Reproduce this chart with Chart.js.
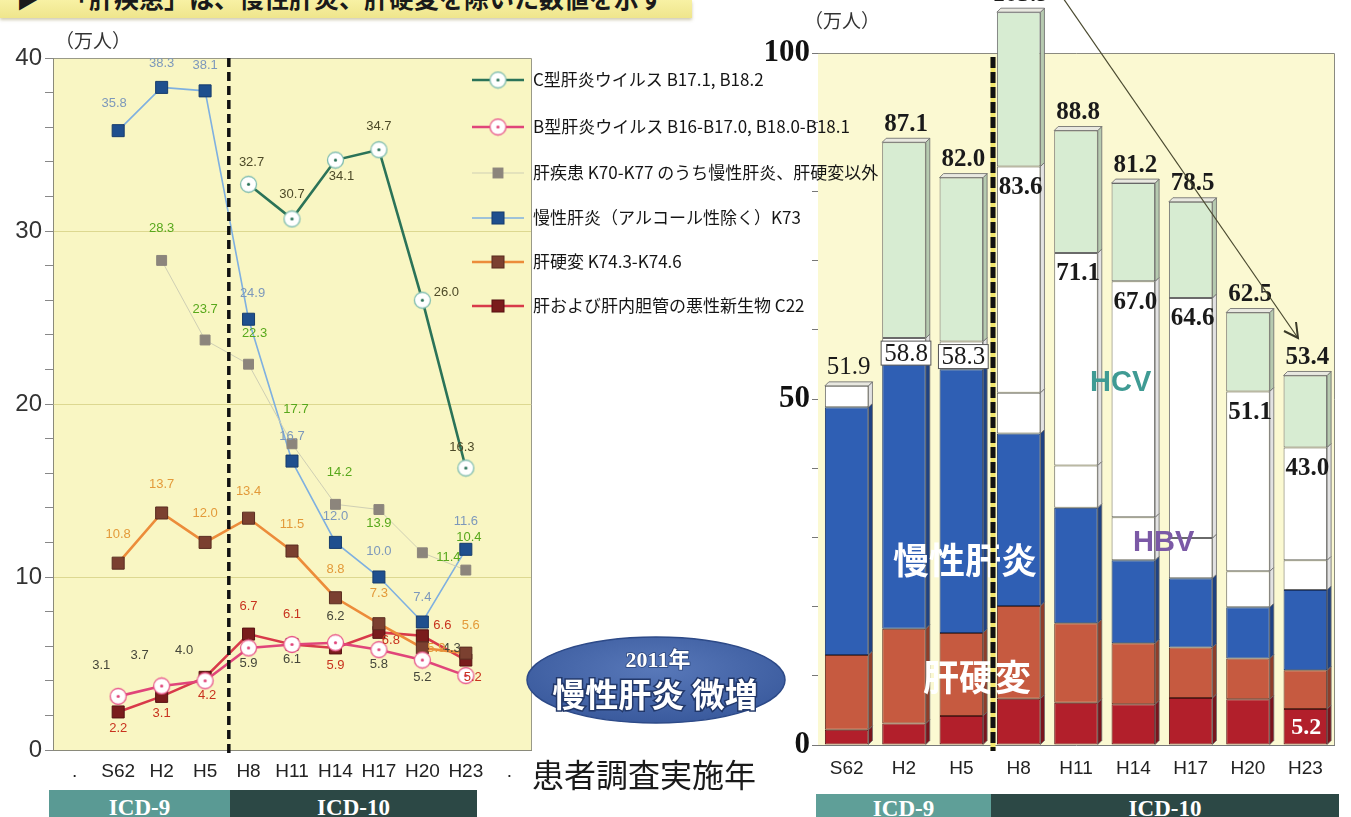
<!DOCTYPE html>
<html lang="ja">
<head>
<meta charset="utf-8">
<title>肝疾患 患者数の推移</title>
<script src="https://cdn.jsdelivr.net/npm/chart.js@4.4.1/dist/chart.umd.min.js"></script>
<style>
  html, body { margin:0; padding:0; background:#fff; }
  #stage { position:relative; width:1351px; height:817px; overflow:hidden; font-family:"Noto Sans CJK JP","Noto Sans",sans-serif; }
  #lineCanvas { position:absolute; left:0; top:0; z-index:3; }
  #barCanvas { position:absolute; left:700px; top:0; z-index:2; }
  .txt { position:absolute; white-space:nowrap; line-height:1; z-index:5; }
  .banner { position:absolute; left:0; top:0; width:692px; height:18px; background:linear-gradient(#f8f1a4,#efe58c); box-shadow:0 2px 3px rgba(120,110,40,.35); overflow:hidden; z-index:1; }
  .banner span { position:absolute; top:-15px; font-weight:700; font-size:25px; color:#1a1a1a; line-height:1; }
  .icd { position:absolute; top:790px; height:27px; color:#fff; font:bold 23px "Liberation Serif","DejaVu Serif",serif; text-align:center; line-height:36px; overflow:hidden; z-index:1; }
</style>
</head>
<body>
<div id="stage">
  <div class="banner"><span style="left:16px">▶</span><span style="left:64px">「肝疾患」は、慢性肝炎、肝硬変を除いた数値を示す</span></div>

  <div class="txt" style="left:55px;top:30px;font-size:19px;color:#333">（万人）</div>
  <div class="txt" style="left:804px;top:10px;font-size:19px;color:#333">（万人）</div>

  <canvas id="barCanvas" width="651" height="817" style="width:651px;height:817px"></canvas>
  <canvas id="lineCanvas" width="900" height="817" style="width:900px;height:817px"></canvas>

  <svg class="txt" style="left:524px;top:632px" width="264" height="96">
    <defs>
      <radialGradient id="ellFill" cx="50%" cy="38%" r="62%">
        <stop offset="0" stop-color="#5878b9"/>
        <stop offset="1" stop-color="#3a5a9d"/>
      </radialGradient>
    </defs>
    <ellipse cx="132" cy="48" rx="129" ry="43" fill="url(#ellFill)" stroke="#2d4a88" stroke-width="1.5"/>
    <text x="134" y="27" text-anchor="middle" dominant-baseline="central" fill="#fff" stroke="#2a4378" stroke-width="1.5" paint-order="stroke" font-family="Liberation Serif, Noto Sans CJK JP, serif" font-weight="bold" font-size="22">2011年</text>
    <text x="131" y="61" text-anchor="middle" dominant-baseline="central" fill="#fff" stroke="#22386a" stroke-width="3" paint-order="stroke" font-family="Noto Sans CJK JP, sans-serif" font-weight="bold" font-size="33">慢性肝炎 微増</text>
  </svg>

  <div class="txt" style="left:532px;top:757px;font-size:32px;color:#1a1a1a">患者調査実施年</div>

  <svg class="txt" style="left:1000px;top:0" width="351" height="400">
    <line x1="63" y1="-2" x2="298" y2="338" stroke="#4a4a30" stroke-width="1.2"/>
    <polyline points="296,322 298,338 284,331" fill="none" stroke="#3a3a28" stroke-width="2"/>
  </svg>

  <div class="icd" style="left:49px;width:181px;background:#5a9a94">ICD-9</div>
  <div class="icd" style="left:230px;width:247px;background:#2c4845">ICD-10</div>
  <div class="icd" style="left:816px;top:794px;height:23px;width:175px;background:#5f9f98;line-height:30px">ICD-9</div>
  <div class="icd" style="left:991px;top:794px;height:23px;width:348px;background:#2c4845;line-height:30px">ICD-10</div>
</div>

<script>
// 患者調査の実施年
const surveyYears = ['S62', 'H2', 'H5', 'H8', 'H11', 'H14', 'H17', 'H20', 'H23'];
// 折れ線グラフの横軸（両端は空き）
const lineAxisLabels = ['.', ...surveyYears, '.'];

// 推計患者数（万人）
const hcv              = [null, null, null, 32.7, 30.7, 34.1, 34.7, 26.0, 16.3]; // C型肝炎ウイルス
const hbv              = [3.1, 3.7, 4.0, 5.9, 6.1, 6.2, 5.8, 5.2, 4.3];          // B型肝炎ウイルス
const otherLiver       = [null, 28.3, 23.7, 22.3, 17.7, 14.2, 13.9, 11.4, 10.4]; // 肝疾患（慢性肝炎・肝硬変以外）
const chronicHepatitis = [35.8, 38.3, 38.1, 24.9, 16.7, 12.0, 10.0, 7.4, 11.6];  // 慢性肝炎
const cirrhosis        = [10.8, 13.7, 12.0, 13.4, 11.5, 8.8, 7.3, 5.9, 5.6];     // 肝硬変
const liverCancer      = [2.2, 3.1, 4.2, 6.7, 6.1, 5.9, 6.8, 6.6, 5.2];          // 肝および肝内胆管の悪性新生物

// 目盛ラベル
const lineTickLabels = [0, 10, 20, 30, 40];
const barTickLabels = [0, 50, 100];

const seriesNames = {
  hcv: 'C型肝炎ウイルス B17.1, B18.2',
  hbv: 'B型肝炎ウイルス B16-B17.0, B18.0-B18.1',
  other: '肝疾患 K70-K77 のうち慢性肝炎、肝硬変以外',
  chronic: '慢性肝炎（アルコール性除く）K73',
  cirrhosis: '肝硬変 K74.3-K74.6',
  cancer: '肝および肝内胆管の悪性新生物 C22'
};

// 数値ラベルの位置調整（マーカーからのずれ px）
const labelNudges = {
  hcv:       [null, null, null, [3,-22], [0,-24], [6,16], [0,-23], [24,-8], [-4,-21]],
  hbv:       [[-17,-31], [-22,-31], [-21,-30], [0,15], [0,15], [0,-26], [0,15], [0,17], [-14,-27]],
  other:     [null, [0,-32], [0,-31], [6,-31], [4,-34], [4,-32], [0,14], [26,5], [3,-33]],
  chronic:   [[-4,-27], [0,-24], [0,-25], [4,-26], [0,-25], [0,-26], [0,-26], [0,-25], [0,-28]],
  cirrhosis: [[0,-29], [0,-29], [0,-29], [0,-27], [0,-27], [0,-28], [0,-30], [14,0], [5,-28]],
  cancer:    [[0,16], [0,17], [2,18], [0,-28], [0,-30], [0,17], [12,8], [20,-10], [7,17]]
};
const legendRowsY = [80, 127, 173, 218, 262, 306];

const pad = arr => [null, ...arr, null];

function ringMarker(stroke, dot) {
  const c = document.createElement('canvas');
  c.width = c.height = 19;
  const g = c.getContext('2d');
  g.beginPath(); g.arc(9.5, 9.5, 8, 0, Math.PI * 2);
  g.fillStyle = '#fff'; g.fill();
  g.lineWidth = 1.3; g.strokeStyle = stroke; g.stroke();
  g.beginPath(); g.arc(9.5, 9.5, 1.6, 0, Math.PI * 2);
  g.fillStyle = dot; g.fill();
  return c;
}

const lineDatasets = [
  { key: 'hcv', data: pad(hcv), borderColor: '#2b7358', borderWidth: 2.6,
    pointStyle: ringMarker('#7fbcae', '#2b7358'), labelColor: '#4d4a28' },
  { key: 'hbv', data: pad(hbv), borderColor: '#e0457a', borderWidth: 2.6,
    pointStyle: ringMarker('#e8588a', '#e0457a'), labelColor: '#45463a' },
  { key: 'other', data: pad(otherLiver), borderColor: '#cfcfb4', borderWidth: 1,
    pointStyle: 'rect', pointRadius: 7, pointBackgroundColor: '#8c857c', pointBorderColor: '#8c857c', labelColor: '#58a81c' },
  { key: 'chronic', data: pad(chronicHepatitis), borderColor: '#7fb0e0', borderWidth: 1.6,
    pointStyle: 'rect', pointRadius: 8.5, pointBackgroundColor: '#1f4f8e', pointBorderColor: '#173c6c', labelColor: '#7d98bb' },
  { key: 'cirrhosis', data: pad(cirrhosis), borderColor: '#ec8c3a', borderWidth: 2.6,
    pointStyle: 'rect', pointRadius: 8.5, pointBackgroundColor: '#7b4030', pointBorderColor: '#5a2c20', labelColor: '#e39a3a' },
  { key: 'cancer', data: pad(liverCancer), borderColor: '#d83a4a', borderWidth: 2.6,
    pointStyle: 'rect', pointRadius: 8.5, pointBackgroundColor: '#7a1c1c', pointBorderColor: '#561212', labelColor: '#c8321e' }
].map(d => Object.assign({ label: seriesNames[d.key], fill: false, tension: 0, pointBorderWidth: 1, spanGaps: false }, d));

function drawMarker(ctx, ds, x, y) {
  if (ds.pointStyle instanceof HTMLCanvasElement) {
    ctx.drawImage(ds.pointStyle, x - ds.pointStyle.width / 2, y - ds.pointStyle.height / 2);
  } else {
    const s = ds.pointRadius * Math.SQRT2;
    ctx.fillStyle = ds.pointBackgroundColor;
    ctx.fillRect(x - s / 2, y - s / 2, s, s);
    ctx.strokeStyle = ds.pointBorderColor; ctx.lineWidth = 1;
    ctx.strokeRect(x - s / 2, y - s / 2, s, s);
  }
}

const linePlotFrame = {
  id: 'linePlotFrame',
  beforeDraw(chart) {
    const { ctx, chartArea: a } = chart;
    ctx.save();
    ctx.fillStyle = '#f9f6c3';
    ctx.fillRect(a.left, a.top, a.right - a.left, a.bottom - a.top);
    ctx.strokeStyle = '#9a9a88'; ctx.lineWidth = 1;
    ctx.beginPath();
    ctx.moveTo(a.left, a.top + 0.5); ctx.lineTo(a.right + 0.5, a.top + 0.5); ctx.lineTo(a.right + 0.5, a.bottom);
    ctx.stroke();
    ctx.restore();
  },
  afterDatasetsDraw(chart) {
    const ctx = chart.ctx;
    ctx.save();
    ctx.font = '13px "Liberation Sans", Arial, sans-serif';
    ctx.textAlign = 'center'; ctx.textBaseline = 'middle';
    chart.data.datasets.forEach((ds, di) => {
      const meta = chart.getDatasetMeta(di);
      const nudges = labelNudges[ds.key];
      meta.data.forEach((pt, i) => {
        const v = ds.data[i];
        if (v == null) return;
        const [dx, dy] = nudges[i - 1];
        ctx.fillStyle = ds.labelColor;
        ctx.fillText(v.toFixed(1), pt.x + dx, pt.y + dy);
      });
    });
    ctx.restore();
  },
  afterDraw(chart) {
    const { ctx, chartArea: a, scales } = chart;
    ctx.save();
    // 凡例
    chart.data.datasets.forEach((ds, i) => {
      const y = legendRowsY[i];
      ctx.strokeStyle = ds.borderColor; ctx.lineWidth = ds.borderWidth;
      ctx.beginPath(); ctx.moveTo(472, y); ctx.lineTo(524, y); ctx.stroke();
      drawMarker(ctx, ds, 498, y);
      ctx.fillStyle = '#151515';
      ctx.font = '17px "Noto Sans CJK JP", sans-serif';
      ctx.textAlign = 'left'; ctx.textBaseline = 'middle';
      ctx.fillText(ds.label, 533, y);
    });
    // ICD-9 / ICD-10 の境界
    const xb = scales.x.getPixelForValue(3.5) + 2;
    ctx.strokeStyle = '#111'; ctx.lineWidth = 3.5; ctx.setLineDash([9, 5]);
    ctx.beginPath(); ctx.moveTo(xb, a.top); ctx.lineTo(xb, a.bottom + 8); ctx.stroke();
    ctx.restore();
  }
};

new Chart(document.getElementById('lineCanvas'), {
  type: 'line',
  data: { labels: lineAxisLabels, datasets: lineDatasets },
  options: {
    responsive: false, animation: false, devicePixelRatio: 1,
    layout: { padding: { top: 58, right: 369, left: 0, bottom: 0 } },
    plugins: { legend: { display: false }, tooltip: { enabled: false } },
    scales: {
      x: {
        offset: true,
        grid: { display: false, drawTicks: false },
        border: { color: '#8a8a7a' },
        ticks: { font: { family: 'Liberation Sans', size: 19 }, color: '#222', padding: 10, autoSkip: false, maxRotation: 0 },
        afterFit(s) { s.height = 67; }
      },
      y: {
        min: 0, max: 40,
        ticks: {
          stepSize: 2,
          callback: v => lineTickLabels.includes(v) ? String(v) : '',
          font: { family: 'Liberation Sans', size: 24 }, color: '#333', padding: 3
        },
        grid: {
          color: c => (c.tick && c.tick.value % 10 === 0 && c.tick.value > 0 && c.tick.value < 40) ? '#ddd890' : 'rgba(0,0,0,0)',
          tickColor: '#888', tickLength: 8, lineWidth: 1
        },
        border: { color: '#8a8a7a' },
        afterFit(s) { s.width = 53; }
      }
    }
  },
  plugins: [linePlotFrame]
});

// 積み上げ棒グラフ
const barSeries = [
  { key: 'cancer', data: liverCancer, backgroundColor: '#b21f2b', borderColor: '#5a1015', sideColor: '#7a141c' },
  { key: 'cirrhosis', data: cirrhosis, backgroundColor: '#c65a40', borderColor: '#5e2a1c', sideColor: '#8e3e2a' },
  { key: 'chronic', data: chronicHepatitis, backgroundColor: '#2f5fb4', borderColor: '#1a356a', sideColor: '#1f4282' },
  { key: 'hbv', data: hbv, backgroundColor: '#ffffff', borderColor: '#6a6a6a', sideColor: '#e2e2e2' },
  { key: 'hcv', data: hcv, backgroundColor: '#ffffff', borderColor: '#6a6a6a', sideColor: '#e2e2e2' },
  { key: 'other', data: otherLiver, backgroundColor: '#d7ecd2', borderColor: '#6a6a6a', sideColor: '#b6cab0' }
].map(d => Object.assign({ label: seriesNames[d.key], borderWidth: 1, borderSkipped: false, clip: false }, d));

const OX = 700; // 棒グラフ canvas の左端（ページ座標）

const barDecor = {
  id: 'barDecor',
  beforeDatasetsDraw(chart) {
    const { ctx, chartArea: a } = chart;
    ctx.save();
    ctx.fillStyle = '#fbf9d2';
    ctx.fillRect(a.left, a.top, a.right - a.left, a.bottom - a.top);
    ctx.strokeStyle = '#8a8a80'; ctx.lineWidth = 1;
    ctx.beginPath();
    ctx.moveTo(a.left, a.top + 0.5); ctx.lineTo(a.right + 0.5, a.top + 0.5); ctx.lineTo(a.right + 0.5, a.bottom);
    ctx.stroke();
    ctx.restore();
  },
  afterDatasetsDraw(chart) {
    const ctx = chart.ctx;
    const d = 4;
    const tops = surveyYears.map(() => null);
    const subTops = surveyYears.map(() => null);
    ctx.save();
    chart.data.datasets.forEach((ds, di) => {
      const meta = chart.getDatasetMeta(di);
      meta.data.forEach((bar, i) => {
        if (ds.data[i] == null) return;
        const { x, y, base, width } = bar.getProps(['x', 'y', 'base', 'width'], true);
        const r = x + width / 2;
        ctx.fillStyle = ds.sideColor;
        ctx.beginPath();
        ctx.moveTo(r, y); ctx.lineTo(r + d, y - d); ctx.lineTo(r + d, base - d); ctx.lineTo(r, base);
        ctx.closePath(); ctx.fill();
        ctx.strokeStyle = '#6a6a6a'; ctx.lineWidth = 0.8; ctx.stroke();
        tops[i] = { x, y, width };
        if (ds.key !== 'other') subTops[i] = { x, y, width };
      });
    });
    // 上面
    tops.forEach(t => {
      if (!t) return;
      const l = t.x - t.width / 2, r = t.x + t.width / 2;
      ctx.fillStyle = '#e8e8e0';
      ctx.beginPath();
      ctx.moveTo(l, t.y); ctx.lineTo(l + d, t.y - d); ctx.lineTo(r + d, t.y - d); ctx.lineTo(r, t.y);
      ctx.closePath(); ctx.fill();
      ctx.strokeStyle = '#666'; ctx.lineWidth = 0.8; ctx.stroke();
    });

    // 合計・小計の数値
    ctx.textAlign = 'center'; ctx.textBaseline = 'middle';
    surveyYears.forEach((yr, i) => {
      const parts = [liverCancer, cirrhosis, chronicHepatitis, hbv, hcv, otherLiver].map(a => a[i] || 0);
      const total = parts.reduce((s, v) => s + v, 0);
      const sub = total - (otherLiver[i] || 0);
      const t = tops[i];
      ctx.fillStyle = '#1a1a1a';
      ctx.font = (i === 0 ? '' : 'bold ') + '25px "Liberation Serif", "DejaVu Serif", serif';
      ctx.fillText(total.toFixed(1), t.x + 2, t.y - 18);
      if (otherLiver[i] != null) {
        const s = subTops[i];
        if (i < 3) {
          ctx.font = '25px "Liberation Serif", "DejaVu Serif", serif';
          const w = ctx.measureText(sub.toFixed(1)).width + 6;
          ctx.fillStyle = '#fff';
          ctx.fillRect(s.x - w / 2 + 2, s.y + 3, w, 24);
          ctx.strokeStyle = '#555'; ctx.lineWidth = 1;
          ctx.strokeRect(s.x - w / 2 + 2, s.y + 3, w, 24);
          ctx.fillStyle = '#1a1a1a';
          ctx.fillText(sub.toFixed(1), s.x + 2, s.y + 16);
        } else {
          ctx.font = 'bold 25px "Liberation Serif", "DejaVu Serif", serif';
          ctx.fillText(sub.toFixed(1), s.x + 2, s.y + 21);
        }
      }
    });
    // 最新年の悪性新生物
    const last = surveyYears.length - 1;
    const cancerBar = chart.getDatasetMeta(0).data[last];
    ctx.font = 'bold 24px "Liberation Serif", "DejaVu Serif", serif';
    ctx.fillStyle = '#fff';
    ctx.fillText(liverCancer[last].toFixed(1), cancerBar.x + 1, cancerBar.y + (cancerBar.base - cancerBar.y) / 2 + 1);

    // 区分名
    ctx.textAlign = 'left';
    ctx.font = 'bold 29px "Liberation Sans", Arial, sans-serif';
    ctx.fillStyle = '#3f9b94';
    ctx.fillText('HCV', 1090 - OX, 383);
    ctx.fillStyle = '#7b59a6';
    ctx.fillText('HBV', 1133 - OX, 543);
    ctx.fillStyle = '#fff';
    ctx.font = 'bold 36px "Noto Sans CJK JP", sans-serif';
    ctx.fillText('慢性肝炎', 893 - OX, 560);
    ctx.fillText('肝硬変', 923 - OX, 677);
    ctx.restore();
  },
  afterDraw(chart) {
    const { ctx, chartArea: a, scales } = chart;
    const xb = scales.x.getPixelForValue(2.5) + 3;
    ctx.save();
    ctx.strokeStyle = '#f1e66a'; ctx.lineWidth = 5;
    ctx.beginPath(); ctx.moveTo(xb, a.top + 4); ctx.lineTo(xb, a.bottom + 6); ctx.stroke();
    ctx.strokeStyle = '#111'; ctx.setLineDash([11, 4]);
    ctx.beginPath(); ctx.moveTo(xb, a.top + 4); ctx.lineTo(xb, a.bottom + 6); ctx.stroke();
    ctx.restore();
  }
};

new Chart(document.getElementById('barCanvas'), {
  type: 'bar',
  data: { labels: surveyYears, datasets: barSeries },
  options: {
    responsive: false, animation: false, devicePixelRatio: 1,
    layout: { padding: { top: 53, right: 17, left: 0, bottom: 0 } },
    plugins: { legend: { display: false }, tooltip: { enabled: false } },
    datasets: { bar: { barPercentage: 0.76, categoryPercentage: 1 } },
    scales: {
      x: {
        stacked: true,
        grid: { display: false, drawTicks: false },
        border: { color: '#777' },
        ticks: { font: { family: 'Liberation Sans', size: 19 }, color: '#222', padding: 12, autoSkip: false, maxRotation: 0 },
        afterFit(s) { s.height = 72; }
      },
      y: {
        stacked: true, min: 0, max: 100,
        ticks: {
          stepSize: 10,
          callback: v => barTickLabels.includes(v) ? String(v) : '',
          font: { family: 'Liberation Serif', size: 31, weight: 'bold' }, color: '#111', padding: 2
        },
        grid: { drawOnChartArea: false, tickColor: '#777', tickLength: 6 },
        border: { color: '#777' },
        afterFit(s) { s.width = 118; }
      }
    }
  },
  plugins: [barDecor]
});
</script>
</body>
</html>
